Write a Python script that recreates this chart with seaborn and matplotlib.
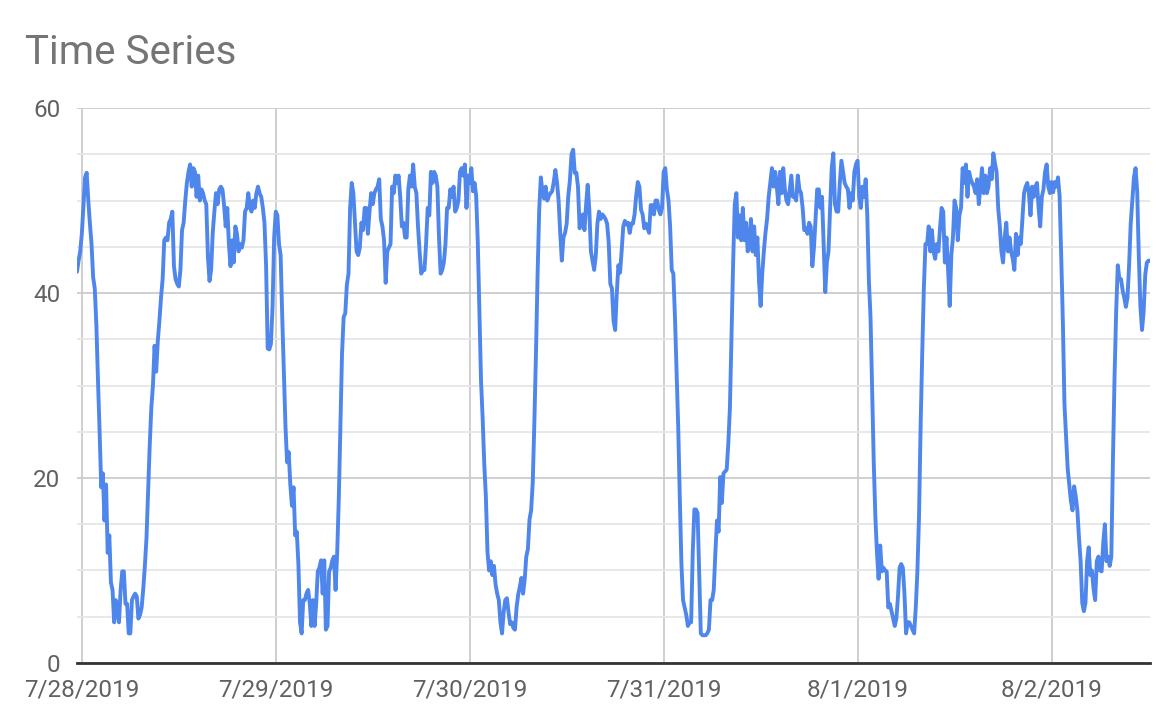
import numpy as np
import pandas as pd
import matplotlib
matplotlib.use("Agg")
import matplotlib.pyplot as plt
import matplotlib.dates as mdates
from matplotlib.ticker import MultipleLocator, FuncFormatter
import seaborn as sns

# readings every 12 minutes, one list per day
jul27_tail = [42.3, 43.5, 44.5]  # from 23:24

jul28 = [
    46.4, 49.5, 52.5, 53.0, 50.0, 47.5, 45.3, 41.7, 40.5, 36.5,
    30.5, 25.0, 19.0, 20.5, 15.4, 19.3, 11.9, 13.8, 8.7, 7.9,
    4.4, 6.8, 5.5, 4.4, 7.9, 9.9, 9.9, 6.4, 6.4, 3.2,
    3.2, 6.8, 7.2, 7.5, 7.2, 4.8, 5.2, 6.0, 8.0, 10.5,
    13.5, 18.5, 23.5, 27.6, 30.0, 34.3, 31.5, 34.8, 37.0, 39.5,
    41.5, 45.7, 46.0, 45.7, 47.6, 48.0, 48.8, 42.9, 41.5, 41.0,
    40.7, 42.5, 46.8, 47.6, 50.0, 51.9, 53.1, 53.9, 51.5, 53.5,
    53.1, 50.4, 52.7, 50.0, 51.2, 50.8, 50.0, 49.6, 44.0, 41.3,
    42.5, 46.5, 48.8, 50.8, 49.6, 51.2, 51.5, 51.2, 49.5, 47.2,
    49.2, 45.3, 42.9, 45.7, 43.3, 47.2, 46.4, 44.5, 45.3, 44.9,
    45.7, 48.8, 49.2, 50.8, 49.2, 48.8, 50.0, 49.2, 50.8, 51.5,
    50.8, 50.4, 49.2, 47.6, 43.0, 34.0, 33.9, 34.5, 38.5, 46.0,
]

jul29 = [
    48.8, 48.4, 45.3, 44.1, 37.4, 31.5, 25.6, 21.7, 22.8, 19.3,
    17.0, 19.0, 13.8, 14.2, 10.7, 4.4, 3.2, 6.8, 6.8, 7.5,
    7.9, 6.5, 4.0, 6.8, 4.0, 6.4, 9.9, 10.3, 11.1, 7.5,
    11.1, 3.6, 4.0, 9.9, 10.3, 11.1, 11.5, 7.9, 11.9, 17.8,
    25.6, 33.5, 37.4, 37.8, 40.9, 42.1, 49.2, 51.9, 50.8, 47.6,
    44.5, 44.1, 44.9, 47.6, 46.8, 49.2, 49.2, 46.4, 48.8, 50.8,
    49.6, 50.8, 51.2, 51.5, 52.3, 48.0, 47.2, 45.7, 41.1, 44.5,
    44.9, 45.3, 51.5, 50.8, 52.7, 51.9, 52.7, 50.4, 47.2, 47.6,
    46.0, 46.0, 51.2, 52.7, 51.5, 53.9, 51.5, 50.8, 47.2, 44.5,
    42.1, 42.5, 42.5, 45.3, 49.2, 48.4, 53.1, 51.9, 53.1, 52.7,
    51.5, 46.0, 42.1, 42.5, 43.3, 45.3, 49.2, 49.2, 51.2, 50.4,
    51.5, 48.8, 49.2, 50.0, 53.1, 53.5, 52.7, 53.9, 49.2, 52.7,
]

jul30 = [
    51.9, 53.5, 51.0, 51.9, 50.5, 45.5, 38.0, 30.5, 26.5, 21.5,
    18.0, 12.0, 10.0, 11.0, 9.5, 10.5, 8.5, 7.5, 6.8, 4.4,
    3.2, 5.5, 6.8, 7.0, 5.5, 4.2, 4.4, 3.8, 3.6, 6.0,
    7.4, 8.2, 9.2, 7.5, 9.0, 11.5, 12.3, 15.5, 16.5, 19.5,
    26.0, 33.5, 42.0, 49.0, 52.5, 51.0, 50.2, 51.5, 50.0, 50.5,
    50.8, 51.0, 52.0, 53.3, 52.0, 50.0, 46.5, 43.5, 46.0, 46.5,
    47.5, 50.5, 52.2, 55.0, 55.5, 53.0, 53.0, 51.5, 47.0, 48.0,
    48.5, 46.8, 49.5, 51.7, 49.0, 44.5, 43.5, 42.5, 44.0, 47.5,
    48.8, 48.0, 48.5, 48.3, 48.0, 47.5, 45.5, 41.0, 40.5, 37.0,
    36.0, 40.0, 43.0, 42.2, 44.5, 47.2, 47.8, 47.4, 47.6, 46.5,
    47.5, 47.5, 48.5, 50.5, 52.0, 51.5, 49.0, 48.5, 47.0, 47.5,
    47.0, 46.5, 49.5, 49.5, 48.5, 50.0, 50.0, 49.0, 48.5, 49.2,
]

jul31 = [
    53.1, 53.5, 51.2, 50.0, 47.2, 42.5, 42.1, 37.4, 31.5, 25.6,
    17.8, 10.7, 6.8, 6.0, 5.2, 4.0, 4.4, 4.4, 11.9, 16.6,
    16.6, 16.2, 9.5, 3.2, 3.0, 3.0, 3.0, 3.2, 3.6, 6.8,
    6.8, 7.9, 11.9, 15.4, 14.2, 20.1, 17.3, 20.5, 20.7, 20.9,
    23.7, 27.6, 35.4, 43.3, 49.6, 50.8, 46.0, 48.4, 45.7, 49.2,
    45.7, 47.6, 44.5, 45.3, 48.0, 44.5, 47.2, 44.1, 46.0, 41.3,
    38.6, 42.1, 44.5, 46.5, 48.0, 50.4, 51.9, 53.5, 51.5, 53.1,
    51.5, 49.6, 53.1, 50.8, 53.5, 51.2, 50.0, 49.6, 51.2, 52.7,
    50.4, 50.4, 50.0, 52.7, 51.2, 50.8, 49.2, 46.8, 47.0, 46.4,
    47.6, 47.2, 42.9, 44.9, 48.0, 51.2, 51.2, 49.2, 50.4, 45.3,
    40.1, 43.3, 44.5, 49.2, 53.5, 55.1, 49.6, 48.8, 48.8, 51.9,
    54.3, 53.1, 51.9, 51.5, 51.2, 49.2, 50.8, 50.0, 53.1, 53.9,
]

aug01 = [
    54.3, 50.4, 49.2, 51.5, 50.4, 52.3, 48.4, 41.3, 37.4, 29.5,
    21.7, 15.8, 11.9, 9.1, 12.7, 9.9, 10.3, 10.0, 9.9, 6.0,
    6.4, 5.6, 4.8, 4.0, 4.8, 7.2, 10.3, 10.7, 10.3, 7.5,
    3.2, 4.4, 4.4, 4.0, 3.6, 3.2, 6.0, 9.9, 15.8, 25.6,
    33.5, 40.5, 45.3, 45.3, 47.2, 44.5, 46.8, 44.5, 43.7, 45.3,
    44.5, 47.0, 49.2, 48.8, 43.3, 46.0, 42.5, 38.6, 44.1, 46.0,
    50.0, 49.2, 45.7, 48.4, 49.2, 53.5, 51.9, 53.9, 50.4, 53.1,
    52.3, 51.9, 51.5, 50.8, 52.3, 49.6, 51.5, 53.5, 50.8, 52.7,
    50.8, 51.5, 53.5, 52.3, 55.1, 54.0, 53.1, 49.2, 47.2, 44.5,
    43.3, 46.0, 47.6, 44.5, 46.0, 44.5, 43.7, 42.5, 46.4, 44.1,
    46.0, 45.3, 48.0, 50.8, 51.5, 51.9, 50.8, 48.4, 51.5, 50.4,
    51.5, 51.9, 49.2, 47.2, 50.4, 51.2, 53.1, 53.9, 51.5, 50.8,
]

aug02 = [
    52.0, 50.9, 52.0, 51.5, 52.5, 50.5, 44.0, 37.0, 28.0, 24.5,
    21.0, 19.3, 17.5, 16.5, 19.1, 18.0, 16.5, 13.5, 11.0, 6.5,
    5.6, 6.5, 11.0, 12.5, 9.5, 10.0, 8.0, 6.8, 11.0, 11.5,
    10.0, 9.9, 13.0, 15.0, 11.0, 11.5, 10.5, 11.5, 22.0, 31.0,
    38.0, 43.0, 41.5, 41.5, 40.3, 39.5, 38.5, 39.5, 43.0, 47.5,
    50.0, 52.5, 53.5, 51.0, 44.0, 38.5, 36.0, 38.0, 42.0, 43.3,
    43.5, 43.5,
]

day_starts = ["2019-07-27 23:24", "2019-07-28", "2019-07-29", "2019-07-30",
              "2019-07-31", "2019-08-01", "2019-08-02"]
day_values = [jul27_tail, jul28, jul29, jul30, jul31, aug01, aug02]

frames = []
for start, vals in zip(day_starts, day_values):
    t = pd.Timestamp(start) + pd.to_timedelta(np.arange(len(vals)) * 12, unit="min")
    frames.append(pd.DataFrame({"time": t, "value": vals}))
df = pd.concat(frames, ignore_index=True)

sns.set_style("white")
plt.rcParams["font.family"] = ["Roboto", "DejaVu Sans"]

fig = plt.figure(figsize=(11.7, 7.28), dpi=100)
ax = fig.add_axes([0.0658, 0.0893, 0.9172, 0.7623])

sns.lineplot(data=df, x="time", y="value", ax=ax, color="#4f86ec", linewidth=2.8)

ax.set_xlim(df["time"].iloc[0], df["time"].iloc[-1])
ax.set_ylim(0, 60)
ax.yaxis.set_major_locator(MultipleLocator(20))
ax.yaxis.set_minor_locator(MultipleLocator(5))
ax.xaxis.set_major_locator(mdates.DayLocator())
ax.xaxis.set_major_formatter(FuncFormatter(
    lambda v, p: (lambda d: f"{d.month}/{d.day}/{d.year}")(mdates.num2date(v))))

ax.grid(which="major", axis="both", color="#cccccc", linewidth=1.3)
ax.grid(which="minor", axis="y", color="#e6e6e6", linewidth=1.3)
ax.set_axisbelow(True)

for s in ["top", "right", "left"]:
    ax.spines[s].set_visible(False)
ax.spines["bottom"].set_color("#333333")
ax.spines["bottom"].set_linewidth(2)
ax.spines["bottom"].set_zorder(5)

ax.tick_params(axis="both", which="both", length=0, labelsize=17.5, colors="#616161")
ax.tick_params(axis="y", pad=12)
ax.tick_params(axis="x", pad=11)
ax.set_xlabel("")
ax.set_ylabel("")

fig.text(0.021, 0.928, "Time Series", fontsize=29, color="#757575", va="center", ha="left")

fig.savefig("out.png", dpi=100)
